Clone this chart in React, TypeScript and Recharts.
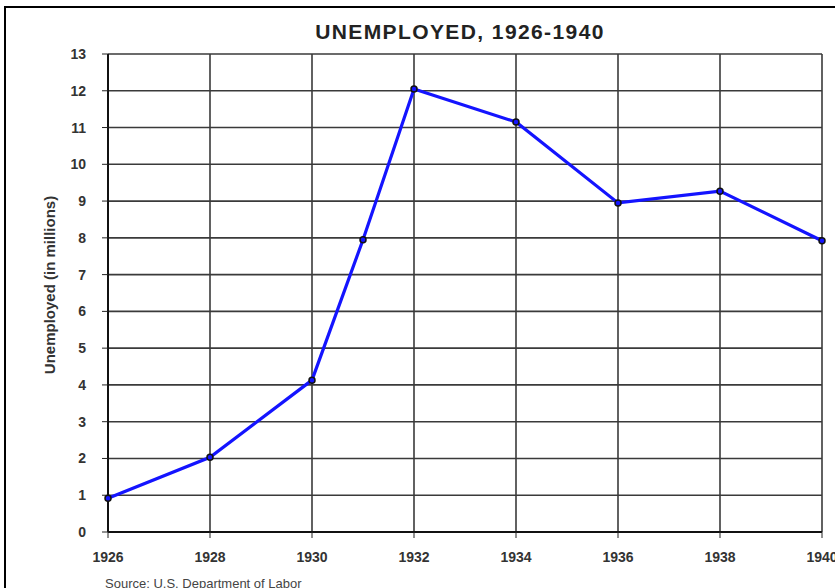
import React from 'react';
import { LineChart, Line, XAxis, YAxis, CartesianGrid } from 'recharts';

// unemployed, in millions
const years = [1926, 1928, 1930, 1931, 1932, 1934, 1936, 1938, 1940];
const unemployed = [0.92, 2.03, 4.13, 7.95, 12.05, 11.15, 8.95, 9.27, 7.92];

const xTicks = [1926, 1928, 1930, 1932, 1934, 1936, 1938, 1940];
const yTicks = [0, 1, 2, 3, 4, 5, 6, 7, 8, 9, 10, 11, 12, 13];

const chartData = years.map((year, i) => ({ year, value: unemployed[i] }));

const font = '"Liberation Sans", Arial, sans-serif';

export default function App() {
    return (
        <div style={{ position: 'absolute', left: 0, top: 0, width: 835, height: 588, overflow: 'hidden', background: '#fff', fontFamily: font }}>
            {/* scanned page frame */}
            <div style={{ position: 'absolute', left: 4, top: 6, width: 900, height: 700, border: '2px solid #000' }} />

            <div style={{
                position: 'absolute', left: 260, width: 400, top: 20, textAlign: 'center',
                fontSize: 21, fontWeight: 700, color: '#222', letterSpacing: 1.4
            }}>
                UNEMPLOYED, 1926-1940
            </div>

            <LineChart
                width={835}
                height={588}
                data={chartData}
                margin={{ top: 54, right: 13, bottom: 26, left: 66 }}
                style={{ position: 'absolute', left: 0, top: 0 }}
            >
                <CartesianGrid stroke="#3a3a3a" strokeWidth={1.6} />
                <XAxis
                    dataKey="year"
                    type="number"
                    domain={[1926, 1940]}
                    ticks={xTicks}
                    interval={0}
                    height={30}
                    tick={{ fontSize: 14, fill: '#333', fontWeight: 700, fontFamily: font }}
                    tickLine={{ stroke: '#222' }}
                    tickSize={6}
                    tickMargin={14}
                    axisLine={{ stroke: '#111', strokeWidth: 2 }}
                />
                <YAxis
                    type="number"
                    domain={[0, 13]}
                    ticks={yTicks}
                    interval={0}
                    width={42}
                    tick={{ fontSize: 14, fill: '#333', fontWeight: 700, fontFamily: font }}
                    tickLine={{ stroke: '#222' }}
                    tickSize={6}
                    tickMargin={16}
                    axisLine={{ stroke: '#111', strokeWidth: 2 }}
                    label={{
                        value: 'Unemployed (in millions)',
                        angle: -90,
                        position: 'insideLeft',
                        offset: -16,
                        dy: -8,
                        style: { fontSize: 15, fontWeight: 700, fill: '#333', fontFamily: font, textAnchor: 'middle' }
                    }}
                />
                <Line
                    type="linear"
                    dataKey="value"
                    stroke="#1414ff"
                    strokeWidth={3.2}
                    dot={{ r: 3, stroke: '#111', strokeWidth: 1.5, fill: '#1414ff' }}
                    isAnimationActive={false}
                />
            </LineChart>

            <div style={{ position: 'absolute', left: 105, top: 576, fontSize: 13, color: '#444' }}>
                Source: U.S. Department of Labor
            </div>
        </div>
    );
}
